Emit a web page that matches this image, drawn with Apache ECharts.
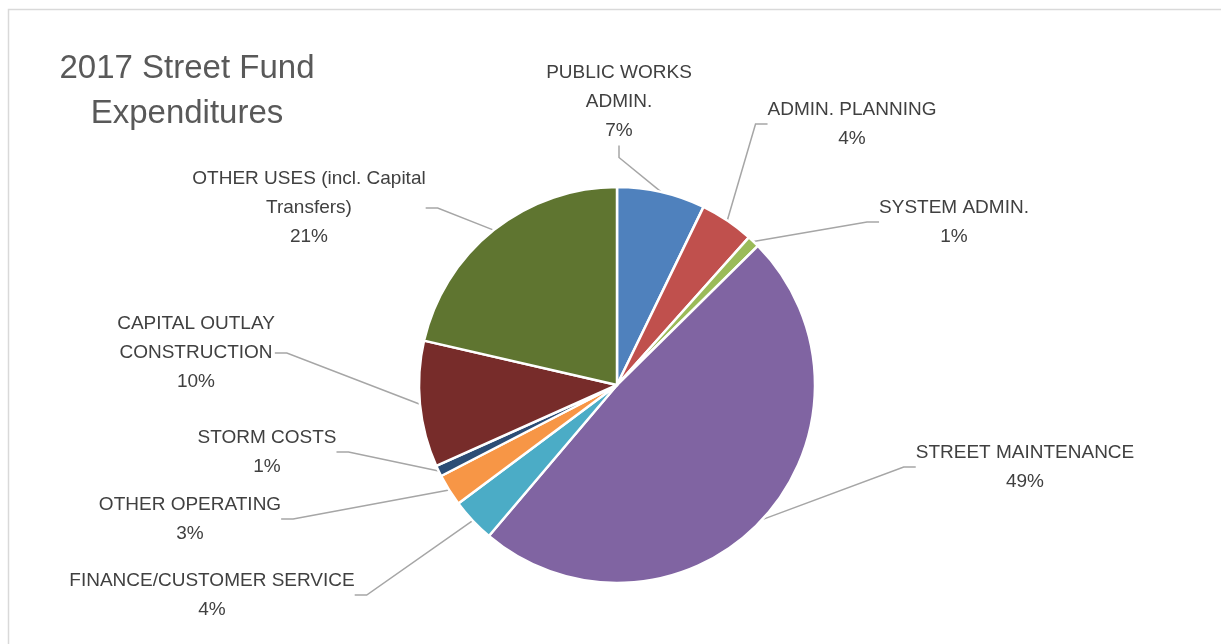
<!DOCTYPE html>
<html>
<head>
<meta charset="utf-8">
<script src="https://cdn.jsdelivr.net/npm/echarts@6/dist/echarts.min.js"></script>
<style>
html,body{margin:0;padding:0;background:#fff;}
#chart{width:1221px;height:644px;}
</style>
</head>
<body>
<div id="chart"></div>
<script>
// Data (percent of 2017 Street Fund expenditures), clockwise from 12 o'clock
const categories = [
  "PUBLIC WORKS\nADMIN.",
  "ADMIN. PLANNING",
  "SYSTEM ADMIN.",
  "STREET MAINTENANCE",
  "FINANCE/CUSTOMER SERVICE",
  "OTHER OPERATING",
  "STORM COSTS",
  "CAPITAL OUTLAY\nCONSTRUCTION",
  "OTHER USES (incl. Capital\nTransfers)"
];
const values = [7.2, 4.4, 1.0, 48.6, 3.6, 2.6, 0.9, 10.3, 21.4];
const colors = ["#4F81BD", "#C0504D", "#9BBB59", "#8064A2", "#4BACC6", "#F79646", "#2C4D75", "#772C2A", "#5F7530"];
const titleLines = ["2017 Street Fund", "Expenditures"];

// label centre positions (layout only)
const labelPos = [
  [619, 102], [852, 124], [954, 222], [1025, 467], [212, 595],
  [190, 519], [267, 452], [196, 353], [309, 208]
];

const chart = echarts.init(document.getElementById('chart'));
const FONT = '"Liberation Sans", Arial, sans-serif';

chart.setOption({
  animation: false,
  backgroundColor: '#ffffff',
  graphic: [
    {
      type: 'rect', silent: true,
      shape: { x: 8.5, y: 9.5, width: 1400, height: 800 },
      style: { fill: 'none', stroke: '#d9d9d9', lineWidth: 1.5 }
    },
    {
      type: 'text', x: 187, y: 46,
      style: {
        text: titleLines.join('\n'),
        fontFamily: FONT, fontSize: 33, lineHeight: 45,
        fill: '#595959', align: 'center', verticalAlign: 'top'
      }
    }
  ],
  series: [{
    type: 'pie',
    center: [617, 385],
    radius: 198,
    startAngle: 90,
    clockwise: true,
    avoidLabelOverlap: false,
    data: categories.map((c, i) => ({ name: c, value: values[i], itemStyle: { color: colors[i] } })),
    itemStyle: { borderColor: '#ffffff', borderWidth: 2.5 },
    label: {
      show: true,
      position: 'outside',
      formatter: p => p.name + '\n' + Math.round(p.percent) + '%',
      fontFamily: FONT,
      fontSize: 19,
      lineHeight: 29,
      color: '#404040',
      align: 'center'
    },
    labelLine: {
      show: true,
      length: 10,
      length2: 12,
      smooth: false,
      lineStyle: { color: '#a6a6a6', width: 1.5 }
    },
    labelLayout: function (params) {
      const p = labelPos[params.dataIndex];
      return { x: p[0], y: p[1], align: 'center', verticalAlign: 'middle' };
    },
    emphasis: { disabled: true }
  }]
});
</script>
</body>
</html>
